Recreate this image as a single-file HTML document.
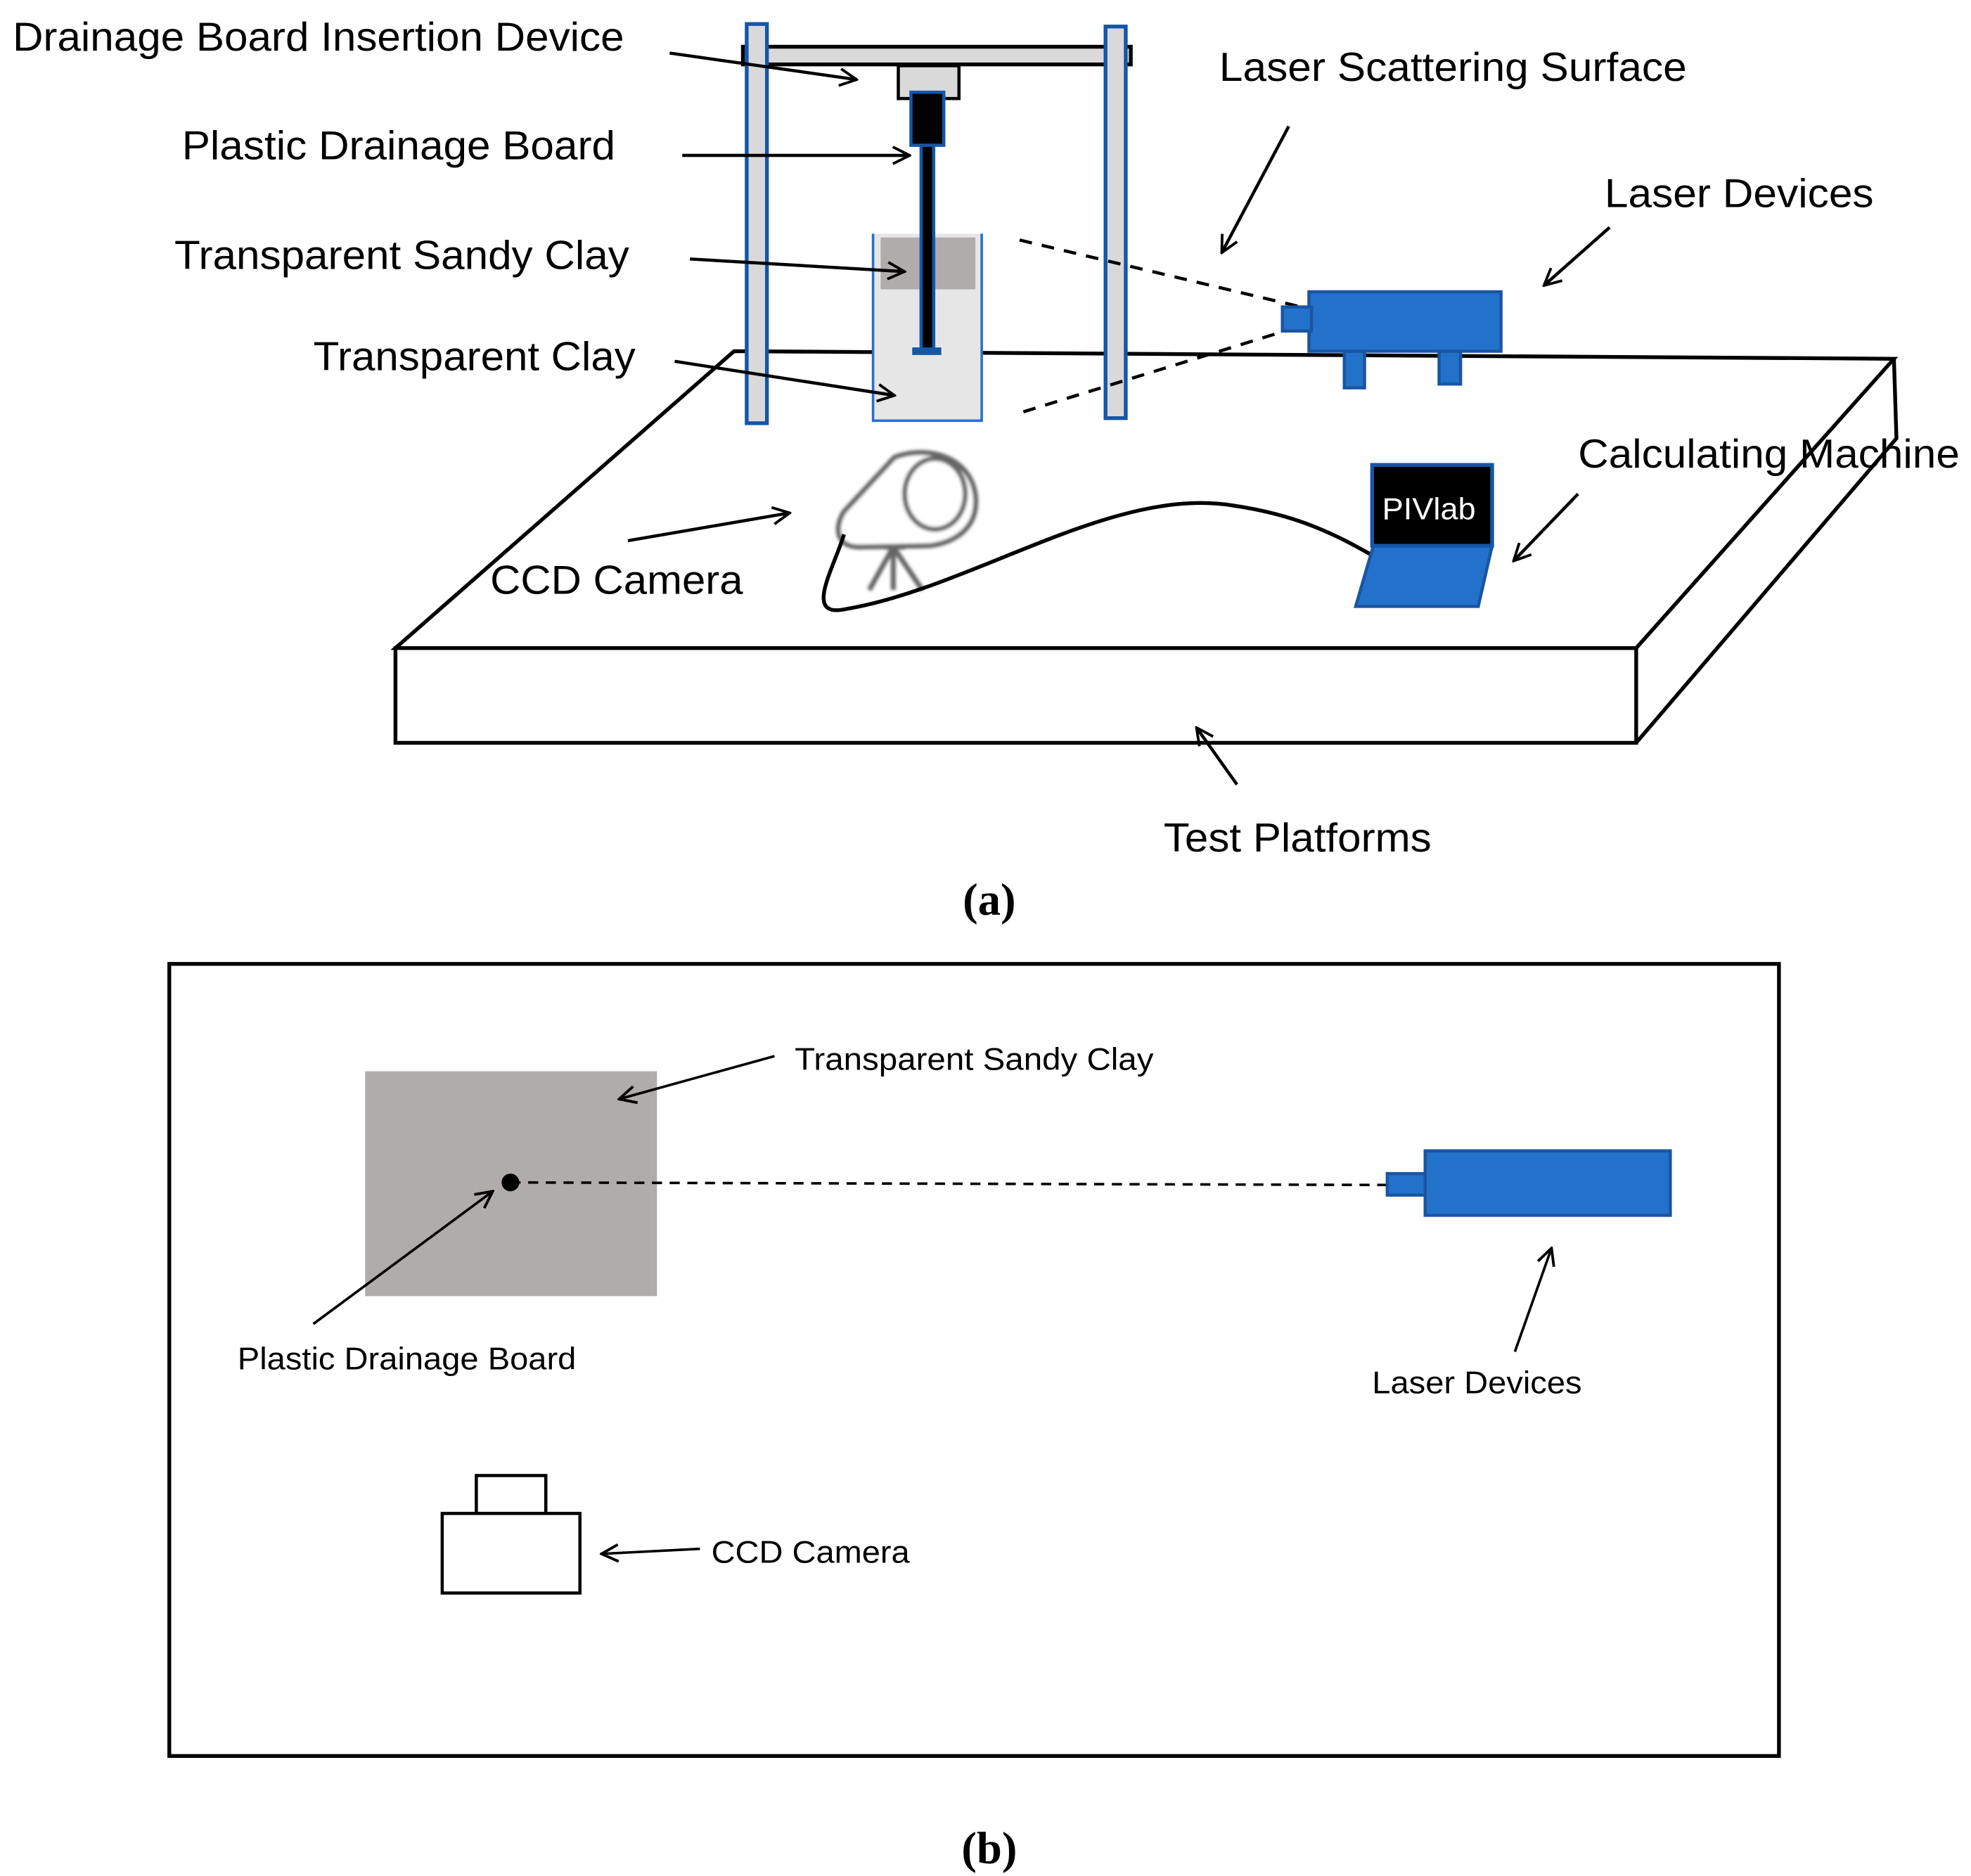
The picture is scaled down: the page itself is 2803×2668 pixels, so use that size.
<!DOCTYPE html>
<html><head><meta charset="utf-8"><style>
html,body{margin:0;padding:0;background:#fff}
svg{display:block}
text{font-family:"Liberation Sans",Arial,sans-serif;fill:#000}
</style></head><body>
<svg width="2803" height="2668" viewBox="0 0 1560 1485" preserveAspectRatio="none" xmlns="http://www.w3.org/2000/svg">
<defs>
<marker id="a" viewBox="0 0 12 12" refX="11" refY="6" markerWidth="16" markerHeight="16" markerUnits="userSpaceOnUse" orient="auto">
<path d="M1,1 L11,6 L1,11" fill="none" stroke="#000" stroke-width="1.6"/>
</marker>
<filter id="bl"><feGaussianBlur stdDeviation="1.2"/></filter>
</defs>
<rect width="1560" height="1485" fill="#fff"/>

<g fill="none" stroke="#000" stroke-width="3">
<polygon points="313,513 581,278 1499,284 1295,513" fill="#fff"/>
<rect x="313" y="513" width="982" height="75" fill="#fff"/>
<polyline points="1499,284 1501,347 1295,588"/>
</g>

<rect x="691" y="185" width="86" height="148" fill="#e6e6e6"/>
<polyline points="691,185 691,333 777,333 777,185" fill="none" stroke="#2a6fd0" stroke-width="2"/>
<rect x="697" y="188" width="75" height="41" fill="#b0acab"/>

<rect x="588" y="37" width="307" height="14" fill="#d9d9d9" stroke="#000" stroke-width="3"/>
<rect x="591" y="19" width="16" height="316" fill="#d9d9d9" stroke="#1456a8" stroke-width="3"/>
<rect x="875" y="21" width="16" height="310" fill="#d9d9d9" stroke="#1456a8" stroke-width="3"/>
<rect x="711" y="52" width="48" height="26" fill="#d9d9d9" stroke="#000" stroke-width="2.5"/>
<rect x="721" y="73" width="26" height="42" fill="#000" stroke="#1456a8" stroke-width="2.5"/>
<rect x="729" y="115" width="10" height="162" fill="#000" stroke="#1456a8" stroke-width="2.5"/>
<rect x="722" y="275" width="23" height="6" fill="#1456a8"/>

<line x1="807" y1="190" x2="1030" y2="243" stroke="#000" stroke-width="2.5" stroke-dasharray="10,8"/>
<line x1="810" y1="326" x2="1030" y2="258" stroke="#000" stroke-width="2.5" stroke-dasharray="10,8"/>

<g fill="#2272cc" stroke="#1a55a0" stroke-width="2.5">
<rect x="1064" y="278" width="16" height="29"/>
<rect x="1139" y="278" width="17" height="26"/>
<rect x="1036" y="231" width="152" height="47"/>
<rect x="1015" y="243" width="23" height="19"/>
</g>

<g fill="none" stroke="#666" stroke-width="4" filter="url(#bl)">
<path d="M708,362 C735,352 768,362 772,392 C775,418 755,430 735,432 L680,433 C662,433 660,418 668,405 Z" fill="#fff"/>
<ellipse cx="740" cy="391" rx="24" ry="28"/>
<line x1="700" y1="433" x2="716" y2="433"/>
<line x1="707" y1="433" x2="688" y2="467"/>
<line x1="707" y1="433" x2="707" y2="467"/>
<line x1="707" y1="433" x2="730" y2="467"/>
</g>

<path d="M668,423 C660,450 635,490 670,482 C770,465 880,385 975,400 C1030,408 1060,425 1087,440" fill="none" stroke="#000" stroke-width="3"/>

<polygon points="1087,432 1181,432 1170,480 1073,480" fill="#2272cc" stroke="#1a55a0" stroke-width="2.5"/>
<rect x="1086" y="368" width="95" height="64" fill="#000" stroke="#1456a8" stroke-width="3"/>
<text x="1094" y="411" font-size="24" textLength="74" lengthAdjust="spacingAndGlyphs" style="fill:#fff">PIVlab</text>

<g stroke="#000" stroke-width="2.5" marker-end="url(#a)">
<line x1="530" y1="42" x2="678" y2="63"/>
<line x1="540" y1="123" x2="720" y2="123"/>
<line x1="546" y1="205" x2="716" y2="215"/>
<line x1="534" y1="286" x2="708" y2="313"/>
<line x1="1020" y1="100" x2="967" y2="200"/>
<line x1="1274" y1="180" x2="1222" y2="226"/>
<line x1="1249" y1="391" x2="1198" y2="444"/>
<line x1="497" y1="428" x2="625" y2="406"/>
<line x1="979" y1="621" x2="947" y2="576"/>
</g>

<g font-size="32" lengthAdjust="spacingAndGlyphs">
<text x="10" y="40" textLength="484" lengthAdjust="spacingAndGlyphs">Drainage Board Insertion Device</text>
<text x="144" y="126" textLength="343" lengthAdjust="spacingAndGlyphs">Plastic Drainage Board</text>
<text x="138" y="213" textLength="360" lengthAdjust="spacingAndGlyphs">Transparent Sandy Clay</text>
<text x="248" y="293" textLength="255" lengthAdjust="spacingAndGlyphs">Transparent Clay</text>
<text x="965" y="64" textLength="370" lengthAdjust="spacingAndGlyphs">Laser Scattering Surface</text>
<text x="1270" y="164" textLength="213" lengthAdjust="spacingAndGlyphs">Laser Devices</text>
<text x="1249" y="370" textLength="302" lengthAdjust="spacingAndGlyphs">Calculating Machine</text>
<text x="388" y="470" textLength="200" lengthAdjust="spacingAndGlyphs">CCD Camera</text>
<text x="921" y="674" textLength="212" lengthAdjust="spacingAndGlyphs">Test Platforms</text>
</g>
<text x="783" y="724" font-size="36" text-anchor="middle" font-weight="bold" style="font-family:'Liberation Serif',serif">(a)</text>

<rect x="134" y="763" width="1274" height="627" fill="none" stroke="#000" stroke-width="3"/>
<rect x="289" y="848" width="231" height="178" fill="#b0acab"/>
<line x1="404" y1="936" x2="1098" y2="938" stroke="#000" stroke-width="2" stroke-dasharray="8,6"/>
<circle cx="404" cy="936" r="7" fill="#000"/>
<g fill="#2272cc" stroke="#1a55a0" stroke-width="2.5">
<rect x="1098" y="929" width="30" height="17"/>
<rect x="1128" y="911" width="194" height="51"/>
</g>
<g fill="#fff" stroke="#000" stroke-width="2.5">
<rect x="377" y="1168" width="55" height="30"/>
<rect x="350" y="1198" width="109" height="63"/>
</g>
<g stroke="#000" stroke-width="2" marker-end="url(#a)">
<line x1="613" y1="836" x2="490" y2="870"/>
<line x1="248" y1="1048" x2="390" y2="943"/>
<line x1="1199" y1="1070" x2="1228" y2="988"/>
<line x1="554" y1="1226" x2="476" y2="1230"/>
</g>
<g font-size="25">
<text x="629" y="847" textLength="284" lengthAdjust="spacingAndGlyphs">Transparent Sandy Clay</text>
<text x="188" y="1084" textLength="268" lengthAdjust="spacingAndGlyphs">Plastic Drainage Board</text>
<text x="1086" y="1103" textLength="166" lengthAdjust="spacingAndGlyphs">Laser Devices</text>
<text x="563" y="1237" textLength="157" lengthAdjust="spacingAndGlyphs">CCD Camera</text>
</g>
<text x="783" y="1475" font-size="36" text-anchor="middle" font-weight="bold" style="font-family:'Liberation Serif',serif">(b)</text>
</svg>
</body></html>
